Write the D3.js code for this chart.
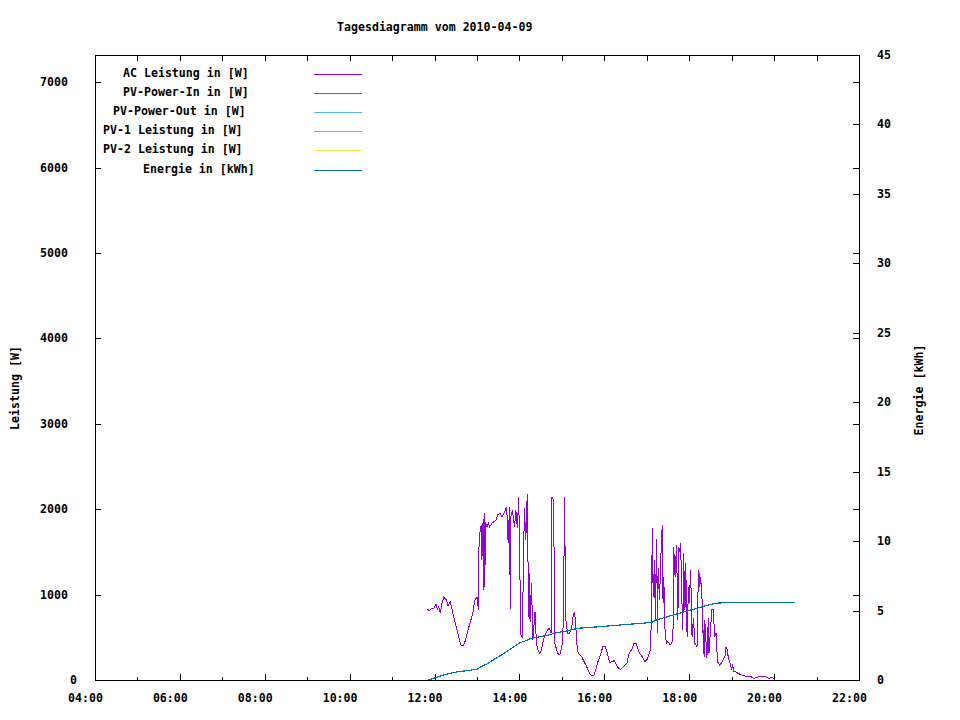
<!DOCTYPE html>
<html>
<head>
<meta charset="utf-8">
<script src="https://cdn.jsdelivr.net/npm/d3@7"></script>
<style>
  body { margin: 0; background: #fff; }
  text { font-family: "DejaVu Sans Mono", monospace; font-weight: bold; font-size: 11.6px; fill: #000; }
</style>
</head>
<body>
<div id="chart"></div>
<script>
// AC Leistung in W
const acTimes = ["11:50","11:53","11:56","11:59","12:02","12:04","12:06","12:08","12:11","12:13",
  "12:17","12:19","12:22","12:24","12:26","12:30","12:34","12:37","12:40","12:43",
  "12:46","12:50","12:54","12:57","13:00","13:02","13:03","13:06","13:07","13:08",
  "13:09","13:10","13:11","13:12","13:14","13:16","13:18","13:21","13:24","13:27",
  "13:29","13:33","13:35","13:37","13:40","13:42","13:44","13:46","13:47","13:48",
  "13:50","13:53","13:55","13:57","13:59","14:02","14:04","14:07","14:09","14:11",
  "14:13","14:14","14:15","14:17","14:19","14:22","14:24","14:27","14:29","14:31",
  "14:34","14:36","14:40","14:42","14:45","14:46","14:48","14:49","14:50","14:54",
  "14:57","15:00","15:02","15:03","15:04","15:05","15:08","15:11","15:14","15:16",
  "15:18","15:20","15:21","15:23","15:28","15:32","15:34","15:39","15:42","15:45",
  "15:48","15:51","15:55","15:58","16:01","16:03","16:06","16:08","16:11","16:14",
  "16:16","16:20","16:23","16:27","16:32","16:35","16:39","16:42","16:45","16:47",
  "16:50","16:54","16:57","17:00","17:02","17:05","17:06","17:07","17:08","17:09",
  "17:11","17:12","17:13","17:14","17:15","17:16","17:18","17:19","17:21","17:22",
  "17:23","17:24","17:26","17:28","17:30","17:33","17:35","17:37","17:38","17:40",
  "17:42","17:44","17:45","17:47","17:48","17:49","17:51","17:52","17:54","17:55",
  "17:57","17:59","18:00","18:02","18:04","18:06","18:08","18:11","18:13","18:14",
  "18:15","18:16","18:18","18:19","18:20","18:21","18:22","18:25","18:27","18:28",
  "18:30","18:32","18:34","18:36","18:38","18:40","18:43","18:47","18:51","18:52",
  "18:54","18:55","18:58","19:00","19:01","19:03","19:06","19:09","19:14","19:21",
  "19:26","19:31","19:35","19:40","19:47","19:53","19:57","20:01","20:13"];
const acWatts = [828,811,839,835,890,828,858,788,917,968,
  937,867,917,858,781,644,507,410,398,449,
  547,664,781,937,968,820,1678,1815,1405,1835,
  1054,1952,1093,1854,1795,1835,1795,1835,1854,1874,
  1932,1952,1913,1932,1991,2030,1600,2030,828,1913,
  1991,1795,1991,1776,2147,527,507,2010,1640,2178,
  741,1253,683,1136,468,800,430,331,312,351,
  468,527,586,605,547,2147,2108,1483,430,312,
  293,390,664,1444,2147,741,547,547,625,761,
  800,586,430,312,273,203,176,78,47,47,
  117,215,312,390,398,351,254,203,215,226,
  195,137,125,156,195,312,359,430,430,371,
  312,266,215,234,273,351,586,1249,1776,976,
  1405,703,1210,1648,547,1307,937,1210,1698,1815,
  898,1210,527,430,449,410,430,488,1561,1210,
  1581,703,1561,1503,1600,1093,586,1483,820,1366,
  507,1093,898,1288,507,722,430,390,1288,1249,
  1093,1210,976,547,586,273,703,254,723,312,
  586,820,820,507,547,215,176,215,293,390,
  351,273,187,117,187,97,97,78,59,39,
  47,20,27,47,39,20,35,0,0];

// Energie in kWh
const energyTimes = ["11:51","11:58","12:03","12:12","12:22","12:34","12:45","13:00","13:04","13:14",
  "13:23","13:32","13:42","13:51","14:01","14:08","14:17","14:29","14:41","14:53",
  "15:07","15:21","15:35","15:54","16:22","16:39","16:53","17:07","17:14","17:26",
  "17:42","17:59","18:15","18:27","18:37","18:55","20:29"];
const energyKwh = [0,0.12,0.19,0.36,0.48,0.6,0.67,0.77,0.91,1.15,
  1.44,1.73,2.04,2.35,2.69,2.81,3.0,3.12,3.24,3.41,
  3.53,3.72,3.77,3.84,3.96,4.03,4.08,4.15,4.32,4.51,
  4.75,4.99,5.23,5.4,5.52,5.59,5.59];

const legendNames = ["AC Leistung in [W]", "PV-Power-In in [W]", "PV-Power-Out in [W]",
  "PV-1 Leistung in [W]", "PV-2 Leistung in [W]", "Energie in [kWh]"];
const legendColors = ["#9400d3", "#009e73", "#56b4e9", "#e69f00", "#f0e442", "#0072b2"];

const leftTicks = [0, 1000, 2000, 3000, 4000, 5000, 6000, 7000];
const rightTicks = [0, 5, 10, 15, 20, 25, 30, 35, 40, 45];
const titleText = "Tagesdiagramm vom 2010-04-09";

const W = 960, H = 720;
const plot = {left: 95, right: 859, top: 55, bottom: 680};

const parse = d3.timeParse("%Y-%m-%d %H:%M");
const t = s => parse("2010-04-09 " + s);

const svg = d3.select("#chart").append("svg")
  .attr("width", W).attr("height", H)
  .style("shape-rendering", "crispEdges");

const x = d3.scaleTime()
  .domain([t("04:00"), t("22:00")])
  .range([plot.left, plot.right]);
const y = d3.scaleLinear().domain([0, 7320]).range([plot.bottom, plot.top]);
const y2 = d3.scaleLinear().domain([0, 45]).range([plot.bottom, plot.top]);

// ticks
const hours = x.ticks(d3.timeHour.every(1));
const tickG = svg.append("g").attr("stroke", "#000").attr("stroke-width", 1);
hours.forEach(h => {
  const px = Math.round(x(h)) + 0.5;
  const major = h.getHours() % 2 === 0;
  tickG.append("line").attr("x1", px).attr("x2", px)
    .attr("y1", plot.bottom).attr("y2", plot.bottom - (major ? 6 : 3));
  tickG.append("line").attr("x1", px).attr("x2", px)
    .attr("y1", plot.top).attr("y2", plot.top + 6);
});
leftTicks.forEach(v => {
  const py = Math.round(y(v)) + 0.5;
  tickG.append("line").attr("x1", plot.left).attr("x2", plot.left + 6).attr("y1", py).attr("y2", py);
  tickG.append("line").attr("x1", plot.right).attr("x2", plot.right - 6).attr("y1", py).attr("y2", py);
});
rightTicks.forEach(v => {
  const py = Math.round(y2(v)) + 0.5;
  tickG.append("line").attr("x1", plot.right).attr("x2", plot.right - 6).attr("y1", py).attr("y2", py);
});

// tick labels
const fmt = d3.timeFormat("%H:%M");
svg.append("g").selectAll("text")
  .data(hours.filter(h => h.getHours() % 2 === 0))
  .join("text")
  .attr("x", d => x(d) - 27)
  .attr("y", 702)
  .text(d => fmt(d));

svg.append("g").selectAll("text")
  .data(leftTicks)
  .join("text")
  .attr("x", d => 80 - 10 * String(d).length)
  .attr("y", d => y(d) + 4)
  .text(d => d);

svg.append("g").selectAll("text")
  .data(rightTicks)
  .join("text")
  .attr("x", 877)
  .attr("y", d => y2(d) + 4)
  .text(d => d);

// axis titles
svg.append("text")
  .attr("transform", "translate(19,388) rotate(-90)")
  .attr("text-anchor", "middle")
  .text("Leistung [W]");
svg.append("text")
  .attr("transform", "translate(923,390) rotate(-90)")
  .attr("text-anchor", "middle")
  .text("Energie [kWh]");

svg.append("text")
  .attr("x", 477 - 10 * titleText.length / 2)
  .attr("y", 31)
  .text(titleText);

// data lines
const acData = acTimes.map((s, i) => ({t: t(s), v: acWatts[i]}));
const enData = energyTimes.map((s, i) => ({t: t(s), v: energyKwh[i]}));

svg.append("path")
  .datum(acData)
  .attr("fill", "none")
  .attr("stroke", legendColors[0])
  .attr("stroke-width", 1)
  .attr("d", d3.line().x(d => x(d.t)).y(d => y(d.v)));

svg.append("path")
  .datum(enData)
  .attr("fill", "none")
  .attr("stroke", legendColors[5])
  .attr("stroke-width", 1.2)
  .attr("d", d3.line().x(d => x(d.t)).y(d => y2(d.v)));

// legend
const legend = svg.append("g");
legendNames.forEach((name, i) => {
  const ly = Math.round(74 + i * 19.1) + 0.5;
  legend.append("text")
    .attr("x", 303 - 10 * name.length)
    .attr("y", ly + 2.5)
    .text(name);
  legend.append("line")
    .attr("x1", 314).attr("x2", 362)
    .attr("y1", ly).attr("y2", ly)
    .attr("stroke", legendColors[i])
    .attr("stroke-width", 1);
});

// border
svg.append("rect")
  .attr("x", plot.left + 0.5).attr("y", plot.top + 0.5)
  .attr("width", plot.right - plot.left).attr("height", plot.bottom - plot.top)
  .attr("fill", "none").attr("stroke", "#000").attr("stroke-width", 1);
</script>
</body>
</html>
